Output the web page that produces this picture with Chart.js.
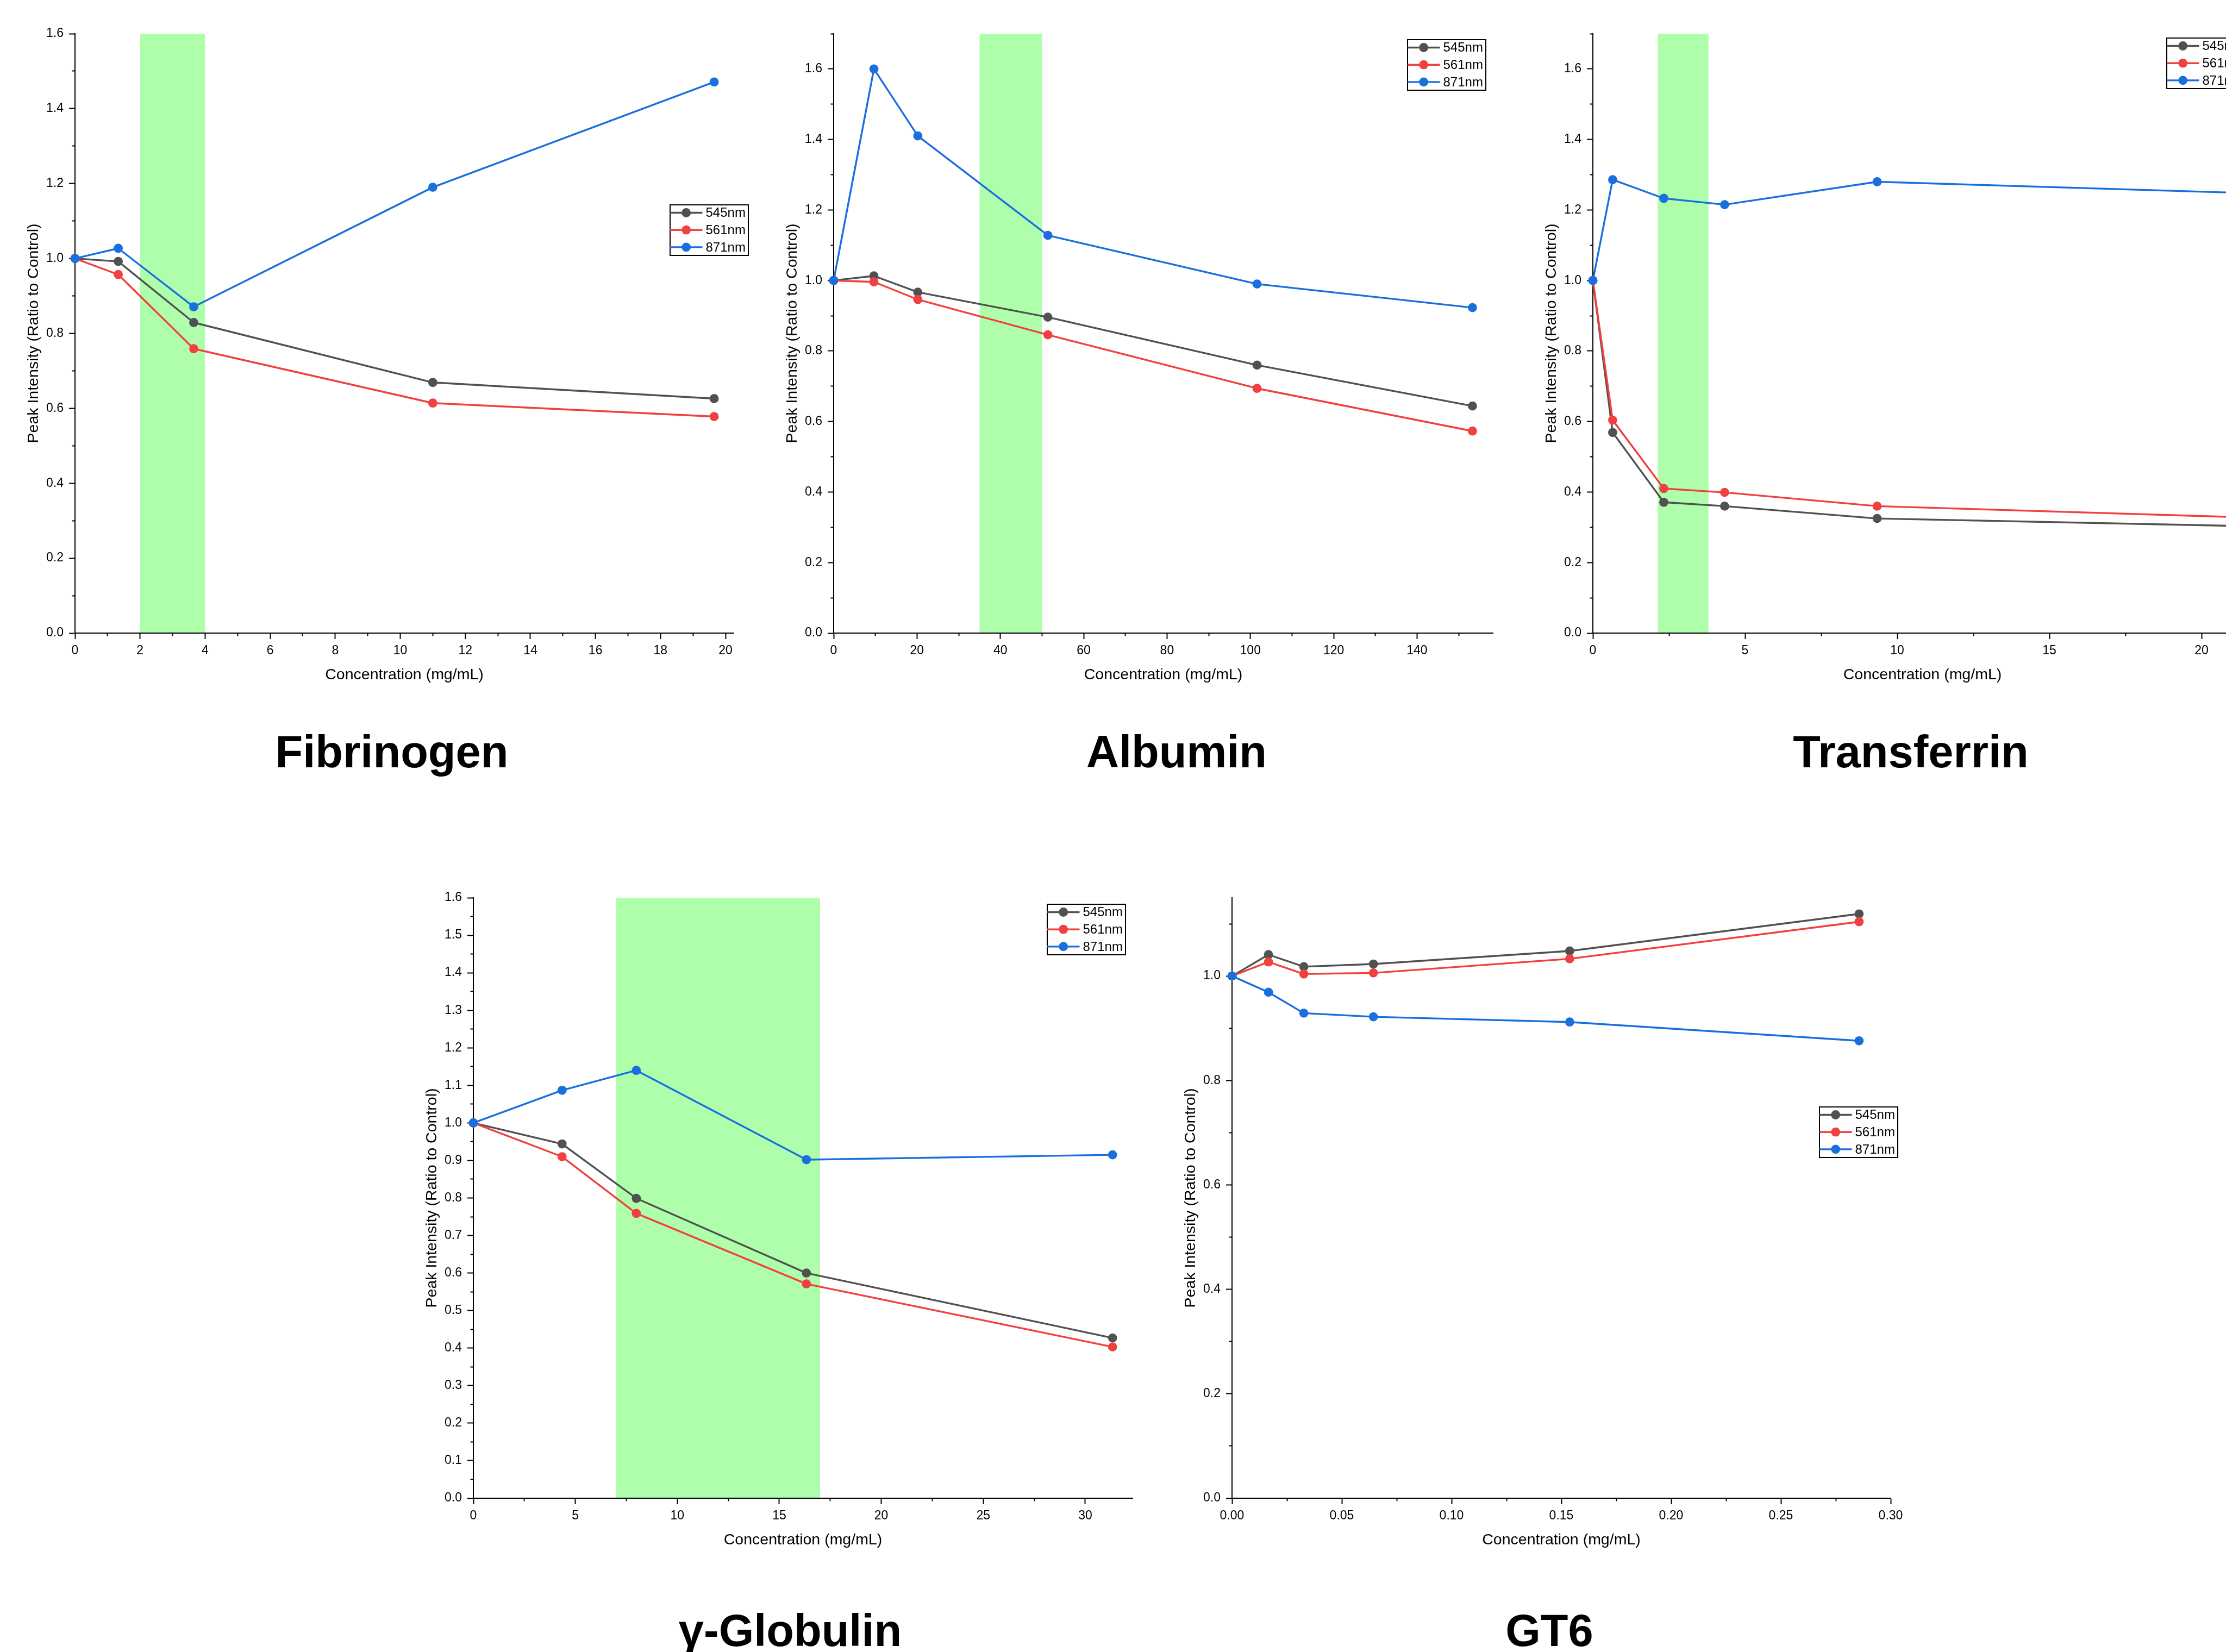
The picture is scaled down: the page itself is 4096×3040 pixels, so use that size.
<!DOCTYPE html>
<html lang="en">
<head>
<meta charset="utf-8">
<title>Peak intensity vs protein concentration</title>
<script src="https://cdn.jsdelivr.net/npm/chart.js@4.4.1/dist/chart.umd.min.js"></script>
<style>
  html, body { margin: 0; padding: 0; background: #fff; }
  body {
    position: relative;
    width: 4096px;
    height: 3040px;
    overflow: hidden;
    font-family: "Liberation Sans", Arial, sans-serif;
  }
  canvas { position: absolute; }
  .panel-title {
    position: absolute;
    transform: translate(-50%, -50%);
    font-size: 83px;
    font-weight: bold;
    line-height: 1;
    white-space: nowrap;
    color: #000;
  }
</style>
</head>
<body>
<canvas id="fibrinogenChart" width="1382" height="1233" style="left:8px;top:32px"></canvas>
<canvas id="albuminChart" width="1383" height="1233" style="left:1404px;top:32px"></canvas>
<canvas id="transferrinChart" width="1383" height="1233" style="left:2801px;top:32px"></canvas>
<canvas id="globulinChart" width="1383" height="1235" style="left:741px;top:1622px"></canvas>
<canvas id="gt6Chart" width="1382" height="1235" style="left:2137px;top:1622px"></canvas>

<div class="panel-title" style="left:721px;top:1383px">Fibrinogen</div>
<div class="panel-title" style="left:2165px;top:1383px">Albumin</div>
<div class="panel-title" style="left:3516px;top:1383px">Transferrin</div>
<div class="panel-title" style="left:1454px;top:3000px">γ-Globulin</div>
<div class="panel-title" style="left:2851px;top:3000px">GT6</div>

<script>
// Fibrinogen
const fibConc = [0, 1.33, 3.65, 11.0, 19.65];
const fib545 = [1.0, 0.992, 0.829, 0.669, 0.626];
const fib561 = [1.0, 0.957, 0.759, 0.614, 0.578];
const fib871 = [1.0, 1.027, 0.871, 1.19, 1.471];
const fibBand = [2, 4];

// Albumin
const albConc = [0, 9.66, 20.2, 51.4, 101.6, 153.3];
const alb545 = [1.0, 1.013, 0.967, 0.896, 0.76, 0.644];
const alb561 = [1.0, 0.996, 0.946, 0.846, 0.694, 0.573];
const alb871 = [1.0, 1.6, 1.41, 1.128, 0.99, 0.923];
const albBand = [35, 50];

// Transferrin (last point sits past the right edge of the figure)
const trfConc = [0, 0.65, 2.33, 4.33, 9.34, 21.1];
const trf545 = [1.0, 0.569, 0.371, 0.36, 0.325, 0.304];
const trf561 = [1.0, 0.604, 0.41, 0.399, 0.36, 0.329];
const trf871 = [1.0, 1.286, 1.233, 1.215, 1.28, 1.249];
const trfBand = [2.13, 3.8];

// γ-Globulin
const glbConc = [0, 4.35, 7.99, 16.33, 31.34];
const glb545 = [1.0, 0.944, 0.799, 0.6, 0.427];
const glb561 = [1.0, 0.91, 0.759, 0.571, 0.403];
const glb871 = [1.0, 1.087, 1.14, 0.902, 0.915];
const glbBand = [7, 17];

// GT6
const gt6Conc = [0, 0.0166, 0.0327, 0.0644, 0.1538, 0.2856];
const gt6545 = [1.0, 1.041, 1.018, 1.023, 1.048, 1.119];
const gt6561 = [1.0, 1.027, 1.004, 1.006, 1.033, 1.104];
const gt6871 = [1.0, 0.969, 0.929, 0.922, 0.912, 0.876];

// Series names and colours
const seriesNames = ["545nm", "561nm", "871nm"];
const seriesColors = ["#515151", "#F14040", "#1A6FDF"];
const bandColor = "#AEFEAB";

// Tick values (major ticks carry labels, minor ticks are short marks)
const fibXTicks = [0, 2, 4, 6, 8, 10, 12, 14, 16, 18, 20];
const fibXMinor = [1, 3, 5, 7, 9, 11, 13, 15, 17, 19];
const albXTicks = [0, 20, 40, 60, 80, 100, 120, 140];
const albXMinor = [10, 30, 50, 70, 90, 110, 130, 150];
const trfXTicks = [0, 5, 10, 15, 20];
const trfXMinor = [2.5, 7.5, 12.5, 17.5];
const glbXTicks = [0, 5, 10, 15, 20, 25, 30];
const glbXMinor = [2.5, 7.5, 12.5, 17.5, 22.5, 27.5];
const gt6XTicks = [0, 0.05, 0.1, 0.15, 0.2, 0.25, 0.3];
const gt6XMinor = [0.025, 0.075, 0.125, 0.175, 0.225, 0.275];

const yTicksFifth = [0, 0.2, 0.4, 0.6, 0.8, 1.0, 1.2, 1.4, 1.6];
const yMinorTo15 = [0.1, 0.3, 0.5, 0.7, 0.9, 1.1, 1.3, 1.5];
const yMinorTo17 = [0.1, 0.3, 0.5, 0.7, 0.9, 1.1, 1.3, 1.5, 1.7];
const yTicksTenth = [0, 0.1, 0.2, 0.3, 0.4, 0.5, 0.6, 0.7, 0.8, 0.9, 1.0, 1.1, 1.2, 1.3, 1.4, 1.5, 1.6];
const yMinorHalf = [0.05, 0.15, 0.25, 0.35, 0.45, 0.55, 0.65, 0.75, 0.85, 0.95, 1.05, 1.15, 1.25, 1.35, 1.45, 1.55];
const gt6YTicks = [0, 0.2, 0.4, 0.6, 0.8, 1.0];
const gt6YMinor = [0.1, 0.3, 0.5, 0.7, 0.9, 1.1];

// Shared styling
const FONT = '"Liberation Sans", Arial, sans-serif';
const Y_AXIS_WIDTH = 130;
const X_AXIS_HEIGHT = 100;
const LINE_WIDTH = 3.4;
const POINT_RADIUS = 8.4;

// One entry per panel
const panels = [
  {
    canvas: "fibrinogenChart", conc: fibConc, values: [fib545, fib561, fib871], band: fibBand,
    xMax: 20.25, yMax: 1.6, xTicks: fibXTicks, xMinor: fibXMinor, yTicks: yTicksFifth, yMinor: yMinorTo15,
    xDecimals: 0, legend: { dx: 1095, dy: 315 },
  },
  {
    canvas: "albuminChart", conc: albConc, values: [alb545, alb561, alb871], band: albBand,
    xMax: 158.2, yMax: 1.7, xTicks: albXTicks, xMinor: albXMinor, yTicks: yTicksFifth, yMinor: yMinorTo17,
    xDecimals: 0, legend: { dx: 1056, dy: 11 },
  },
  {
    canvas: "transferrinChart", conc: trfConc, values: [trf545, trf561, trf871], band: trfBand,
    xMax: 21.66, yMax: 1.7, xTicks: trfXTicks, xMinor: trfXMinor, yTicks: yTicksFifth, yMinor: yMinorTo17,
    xDecimals: 0, legend: { dx: 1056, dy: 8 },
  },
  {
    canvas: "globulinChart", conc: glbConc, values: [glb545, glb561, glb871], band: glbBand,
    xMax: 32.32, yMax: 1.6, xTicks: glbXTicks, xMinor: glbXMinor, yTicks: yTicksTenth, yMinor: yMinorHalf,
    xDecimals: 0, legend: { dx: 1056, dy: 12 },
  },
  {
    canvas: "gt6Chart", conc: gt6Conc, values: [gt6545, gt6561, gt6871], band: null,
    xMax: 0.3, yMax: 1.15, xTicks: gt6XTicks, xMinor: gt6XMinor, yTicks: gt6YTicks, yMinor: gt6YMinor,
    xDecimals: 2, legend: { dx: 1081, dy: 385 },
  },
];

// Boxed legend drawn inside the plot area (line + marker + label)
const boxLegend = {
  id: "boxLegend",
  afterDatasetsDraw(chart, args, opts) {
    const { ctx, chartArea } = chart;
    const left = chartArea.left + opts.dx;
    const top = chartArea.top + opts.dy;
    const items = chart.data.datasets.filter((d) => d.label);

    ctx.save();
    ctx.fillStyle = "#fff";
    ctx.fillRect(left, top, 144, 93);
    ctx.lineWidth = 2;
    ctx.strokeStyle = "#000";
    ctx.strokeRect(left, top, 144, 93);

    ctx.font = `24px ${FONT}`;
    ctx.textBaseline = "middle";
    ctx.textAlign = "left";
    items.forEach((d, i) => {
      const cy = top + 14.5 + i * 31.7;
      ctx.strokeStyle = d.borderColor;
      ctx.lineWidth = d.borderWidth;
      ctx.beginPath();
      ctx.moveTo(left, cy);
      ctx.lineTo(left + 59.5, cy);
      ctx.stroke();
      ctx.fillStyle = d.borderColor;
      ctx.beginPath();
      ctx.arc(left + 29.7, cy, d.pointRadius, 0, Math.PI * 2);
      ctx.fill();
      ctx.fillStyle = "#000";
      ctx.fillText(d.label, left + 65.5, cy + 1);
    });
    ctx.restore();
  },
};

// Build one line series
function makeSeries(name, conc, values, color, order) {
  return {
    label: name,
    data: conc.map((x, i) => ({ x: x, y: values[i] })),
    borderColor: color,
    backgroundColor: color,
    borderWidth: LINE_WIDTH,
    borderJoinStyle: "round",
    pointRadius: POINT_RADIUS,
    pointBorderWidth: 0,
    pointBackgroundColor: color,
    tension: 0,
    fill: false,
    clip: false,
    order: order,
  };
}

// Shaded concentration range, filled from the top of the axis down to zero
function makeBand(band, yMax) {
  return {
    data: [
      { x: band[0], y: yMax },
      { x: band[1], y: yMax },
    ],
    borderColor: "rgba(0,0,0,0)",
    borderWidth: 1,
    pointRadius: 0,
    backgroundColor: bandColor,
    fill: "origin",
    order: 10,
  };
}

function setTicks(values) {
  return (scale) => {
    scale.ticks = values.map((v) => ({ value: v }));
  };
}

function majorAxis(p, isX) {
  return {
    type: "linear",
    axis: isX ? "x" : "y",
    position: isX ? "bottom" : "left",
    weight: 1,
    min: 0,
    max: isX ? p.xMax : p.yMax,
    afterBuildTicks: setTicks(isX ? p.xTicks : p.yTicks),
    afterFit: (scale) => {
      if (isX) scale.height = X_AXIS_HEIGHT;
      else scale.width = Y_AXIS_WIDTH;
    },
    grid: {
      display: true,
      drawOnChartArea: false,
      drawTicks: true,
      tickLength: 11,
      tickWidth: 2,
      tickColor: "#000",
    },
    border: { display: true, color: "#000", width: 2 },
    ticks: {
      autoSkip: false,
      maxRotation: 0,
      color: "#000",
      padding: isX ? 8 : 10,
      font: { family: FONT, size: 23 },
      callback: (v) => v.toFixed(isX ? p.xDecimals : 1),
    },
    title: {
      display: true,
      text: isX ? "Concentration (mg/mL)" : "Peak Intensity (Ratio to Control)",
      color: "#000",
      font: { family: FONT, size: 28.5 },
      padding: isX ? { top: 0, bottom: 5.5 } : { top: 37.3, bottom: 0 },
    },
  };
}

// Minor ticks: a second axis of zero size sitting right on the plot edge
function minorAxis(p, isX) {
  return {
    type: "linear",
    axis: isX ? "x" : "y",
    position: isX ? "bottom" : "left",
    weight: 0,
    min: 0,
    max: isX ? p.xMax : p.yMax,
    afterBuildTicks: setTicks(isX ? p.xMinor : p.yMinor),
    afterFit: (scale) => {
      if (isX) scale.height = 0;
      else scale.width = 0;
    },
    grid: {
      display: true,
      drawOnChartArea: false,
      drawTicks: true,
      tickLength: 5.5,
      tickWidth: 2,
      tickColor: "#000",
    },
    border: { display: false },
    ticks: { display: false },
  };
}

function makeChart(p) {
  const datasets = seriesNames.map((name, i) =>
    makeSeries(name, p.conc, p.values[i], seriesColors[i], 3 - i)
  );
  if (p.band) datasets.push(makeBand(p.band, p.yMax));

  return new Chart(document.getElementById(p.canvas), {
    type: "line",
    data: { datasets: datasets },
    options: {
      responsive: false,
      animation: false,
      events: [],
      layout: { padding: { top: 30, right: 40, bottom: 0, left: 0 } },
      scales: {
        x: majorAxis(p, true),
        xMinor: minorAxis(p, true),
        y: majorAxis(p, false),
        yMinor: minorAxis(p, false),
      },
      plugins: {
        legend: { display: false },
        tooltip: { enabled: false },
        filler: { drawTime: "beforeDraw" },
        boxLegend: p.legend,
      },
    },
    plugins: [boxLegend],
  });
}

panels.forEach(makeChart);
</script>
</body>
</html>
